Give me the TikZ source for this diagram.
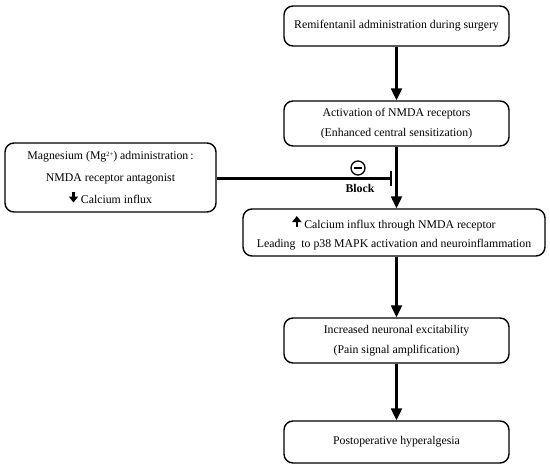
\documentclass[tikz,border=0pt]{standalone}
\usepackage{fontspec}
\setmainfont{Liberation Serif}
\usetikzlibrary{arrows.meta}
\newcommand{\bigup}{\tikz[baseline=-1pt]\draw[line width=2.2pt,-{Triangle[width=9pt,length=6pt]}] (0,0) -- (0,11pt);}
\newcommand{\bigdown}{\tikz[baseline=-1pt]\draw[line width=2.2pt,-{Triangle[width=9pt,length=6pt]}] (0,11pt) -- (0,0);}
\newcommand{\smallsup}[1]{\raisebox{3.5pt}{\fontsize{6.5pt}{7pt}\selectfont #1}}
\begin{document}
\begin{tikzpicture}[x=1pt,y=1pt,
  box/.style={draw, line width=1.4pt, rounded corners=9pt, align=center, inner sep=0pt,
    font=\fontsize{11.8pt}{19.5pt}\selectfont},
  flow/.style={line width=2.2pt, -{Triangle[width=11pt,length=12pt]}}]
\useasboundingbox (0,0) rectangle (550,-469);
\node[box, minimum width=225, minimum height=40] (b1) at (396.5,-26) {Remifentanil administration during surgery};
\node[box, minimum width=225, minimum height=45] (b2) at (396.5,-123.5) {Activation of NMDA receptors\\(Enhanced central sensitization)};
\node[box, minimum width=302, minimum height=47] (b3) at (394,-232.5) {\bigup\ Calcium influx through NMDA receptor\\Leading\ \ to p38 MAPK activation and neuroinflammation};
\node[box, minimum width=225, minimum height=45] (b4) at (396.5,-340.5) {Increased neuronal excitability\\(Pain signal amplification)};
\node[box, minimum width=225, minimum height=42] (b5) at (396.5,-442) {Postoperative hyperalgesia};
\node[box, minimum width=211, minimum height=69, font=\fontsize{11.8pt}{22pt}\selectfont] (mg) at (110.5,-177.5) {Magnesium (Mg\smallsup{2+}) administration\,:\\NMDA receptor antagonist\\\bigdown\ Calcium influx};
\draw[flow] (b1) -- (b2);
\draw[flow] (b2.south) -- (b2.south |- b3.north);
\draw[flow] (b2.south |- b3.south) -- (b4.north);
\draw[flow] (b4) -- (b5);
\coordinate (blk) at (392,-178.5);
\draw[line width=2.2pt, -{Bar[width=15pt,line width=2.2pt]}] (mg.east |- blk) -- (blk);
\node[circle, draw, line width=1.3pt, minimum size=14pt, inner sep=0pt] (minus) at (358,-168) {};
\draw[line width=1.3pt] ([xshift=-4pt]minus.center) -- ([xshift=4pt]minus.center);
\node[font=\fontsize{11.8pt}{12pt}\selectfont\bfseries] (block) at (360,-188.5) {Block};
\end{tikzpicture}
\end{document}
